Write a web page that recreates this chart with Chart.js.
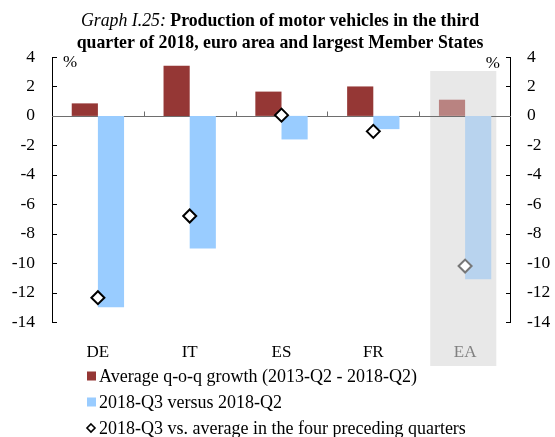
<!DOCTYPE html>
<html>
<head>
<meta charset="utf-8">
<script src="https://cdn.jsdelivr.net/npm/chart.js@4.4.1/dist/chart.umd.min.js"></script>
<style>
  body { margin: 0; background: #fff; }
  canvas { display: block; }
</style>
</head>
<body>
<canvas id="chart" width="555" height="437"></canvas>
<script>
const categories = ['DE', 'IT', 'ES', 'FR', 'EA'];
const avgGrowth = [0.85, 3.4, 1.65, 2.0, 1.1];
const q3VsQ2 = [-13.0, -9.0, -1.6, -0.9, -11.1];
const q3VsFourQ = [-12.35, -6.8, 0.05, -1.05, -10.2];
const yMin = -14;
const yMax = 4;
const yStep = 2;

const serif = "'Liberation Serif', 'Times New Roman', serif";
const red = '#953735';
const redFaded = '#b98381';
const blue = '#99ccff';
const blueFaded = '#b8d3ee';
const eaIndex = 4;

// grey band behind the euro area column
const bandPlugin = {
    id: 'band',
    beforeDraw(chart) {
        const ctx = chart.ctx;
        const x = chart.scales.x;
        const area = chart.chartArea;
        const cw = x.width / categories.length;
        const cx = x.getPixelForValue(eaIndex);
        ctx.save();
        ctx.fillStyle = '#e8e8e8';
        ctx.fillRect(cx - cw * 0.38, area.top + 14, cw * 0.72, area.bottom - area.top + 30);
        ctx.restore();
    }
};

// axis lines with inward ticks, zero line with category ticks
const axesPlugin = {
    id: 'axes',
    beforeDatasetsDraw(chart) {
        const ctx = chart.ctx;
        const area = chart.chartArea;
        const y = chart.scales.y;
        const x = chart.scales.x;
        ctx.save();
        ctx.lineWidth = 1;
        ctx.strokeStyle = '#000';
        ctx.beginPath();
        ctx.moveTo(area.left + 0.5, area.top);
        ctx.lineTo(area.left + 0.5, area.bottom);
        ctx.moveTo(area.right - 0.5, area.top);
        ctx.lineTo(area.right - 0.5, area.bottom);
        y.ticks.forEach(t => {
            const py = Math.round(y.getPixelForValue(t.value)) + 0.5;
            ctx.moveTo(area.left, py);
            ctx.lineTo(area.left + 5, py);
            ctx.moveTo(area.right, py);
            ctx.lineTo(area.right - 5, py);
        });
        ctx.stroke();

        const zy = Math.round(y.getPixelForValue(0)) + 0.5;
        ctx.strokeStyle = '#6e6e6e';
        ctx.beginPath();
        ctx.moveTo(area.left, zy);
        ctx.lineTo(area.right, zy);
        const cw = x.width / categories.length;
        for (let i = 1; i < categories.length; i++) {
            const px = Math.round(x.getPixelForValue(i) - cw / 2) + 0.5;
            ctx.moveTo(px, zy);
            ctx.lineTo(px, zy - 5);
        }
        ctx.stroke();

        ctx.fillStyle = '#000';
        ctx.font = '17px ' + serif;
        ctx.textBaseline = 'alphabetic';
        ctx.textAlign = 'left';
        ctx.fillText('%', area.left + 11, area.top + 10);
        ctx.textAlign = 'right';
        ctx.fillText('%', area.right - 11, area.top + 11);
        ctx.restore();
    }
};

// two line title, first words in italic
const titlePlugin = {
    id: 'graphTitle',
    afterDraw(chart) {
        const ctx = chart.ctx;
        const cx = 280;
        const lead = 'Graph I.25: ';
        const rest = 'Production of motor vehicles in the third';
        const line2 = 'quarter of 2018, euro area and largest Member States';
        ctx.save();
        ctx.fillStyle = '#000';
        ctx.textBaseline = 'alphabetic';
        ctx.textAlign = 'left';
        ctx.font = 'italic 17.8px ' + serif;
        const w1 = ctx.measureText(lead).width;
        ctx.font = 'bold 17.8px ' + serif;
        const w2 = ctx.measureText(rest).width;
        const x0 = cx - (w1 + w2) / 2;
        ctx.font = 'italic 17.8px ' + serif;
        ctx.fillText(lead, x0, 26);
        ctx.font = 'bold 17.8px ' + serif;
        ctx.fillText(rest, x0 + w1, 26);
        ctx.textAlign = 'center';
        ctx.fillText(line2, cx, 48);
        ctx.restore();
    }
};

// legend stacked below the categories
const legendPlugin = {
    id: 'stackLegend',
    afterDraw(chart) {
        const ctx = chart.ctx;
        const area = chart.chartArea;
        const sets = chart.data.datasets;
        const rows = [sets[1], sets[2], sets[0]];
        ctx.save();
        ctx.font = '18px ' + serif;
        ctx.textBaseline = 'middle';
        ctx.textAlign = 'left';
        rows.forEach((ds, i) => {
            const ry = area.bottom + 54 + i * 26;
            if (ds.type === 'line') {
                ctx.beginPath();
                ctx.moveTo(91, ry - 4);
                ctx.lineTo(95, ry);
                ctx.lineTo(91, ry + 4);
                ctx.lineTo(87, ry);
                ctx.closePath();
                ctx.fillStyle = '#fff';
                ctx.fill();
                ctx.lineWidth = 1.6;
                ctx.strokeStyle = '#000';
                ctx.stroke();
            } else {
                ctx.fillStyle = ds.legendColor;
                ctx.fillRect(87, ry - 4.5, 9, 9);
            }
            ctx.fillStyle = '#000';
            ctx.fillText(ds.label, 99, ry + 1);
        });
        ctx.restore();
    }
};

new Chart(document.getElementById('chart'), {
    data: {
        labels: categories,
        datasets: [
            {
                type: 'line',
                label: '2018-Q3 vs. average in the four preceding quarters',
                data: q3VsFourQ,
                showLine: false,
                pointStyle: 'rectRot',
                pointRadius: 6.5,
                pointBorderWidth: 2,
                pointBackgroundColor: '#fff',
                pointBorderColor: categories.map((c, i) => i === eaIndex ? '#777' : '#000'),
                order: 0,
            },
            {
                type: 'bar',
                label: 'Average q-o-q growth (2013-Q2 - 2018-Q2)',
                data: avgGrowth,
                backgroundColor: categories.map((c, i) => i === eaIndex ? redFaded : red),
                legendColor: red,
                order: 1,
            },
            {
                type: 'bar',
                label: '2018-Q3 versus 2018-Q2',
                data: q3VsQ2,
                backgroundColor: categories.map((c, i) => i === eaIndex ? blueFaded : blue),
                legendColor: blue,
                order: 1,
            },
        ]
    },
    options: {
        responsive: false,
        animation: false,
        devicePixelRatio: 1,
        layout: { padding: { top: 57, left: 0, right: 0, bottom: 0 } },
        datasets: {
            bar: { categoryPercentage: 0.57, barPercentage: 1.0, borderWidth: 0 }
        },
        scales: {
            x: {
                type: 'category',
                offset: true,
                grid: { display: false, drawTicks: false },
                border: { display: false },
                ticks: {
                    color: ctx => ctx.index === eaIndex ? '#808080' : '#000',
                    font: { family: serif, size: 17 },
                    padding: 20,
                },
                afterFit(scale) { scale.height = 115; },
            },
            y: {
                position: 'left',
                min: yMin,
                max: yMax,
                grid: { display: false, drawTicks: false },
                border: { display: false },
                ticks: { stepSize: yStep, color: '#000', font: { family: serif, size: 17.5 }, padding: 17 },
                afterFit(scale) { scale.width = 52; },
            },
            y2: {
                position: 'right',
                min: yMin,
                max: yMax,
                grid: { display: false, drawTicks: false },
                border: { display: false },
                ticks: { stepSize: yStep, color: '#000', font: { family: serif, size: 17.5 }, padding: 16 },
                afterFit(scale) { scale.width = 44; },
            },
        },
        plugins: {
            legend: { display: false },
            title: { display: false },
            tooltip: { enabled: false },
        }
    },
    plugins: [bandPlugin, axesPlugin, titlePlugin, legendPlugin]
});
</script>
</body>
</html>
